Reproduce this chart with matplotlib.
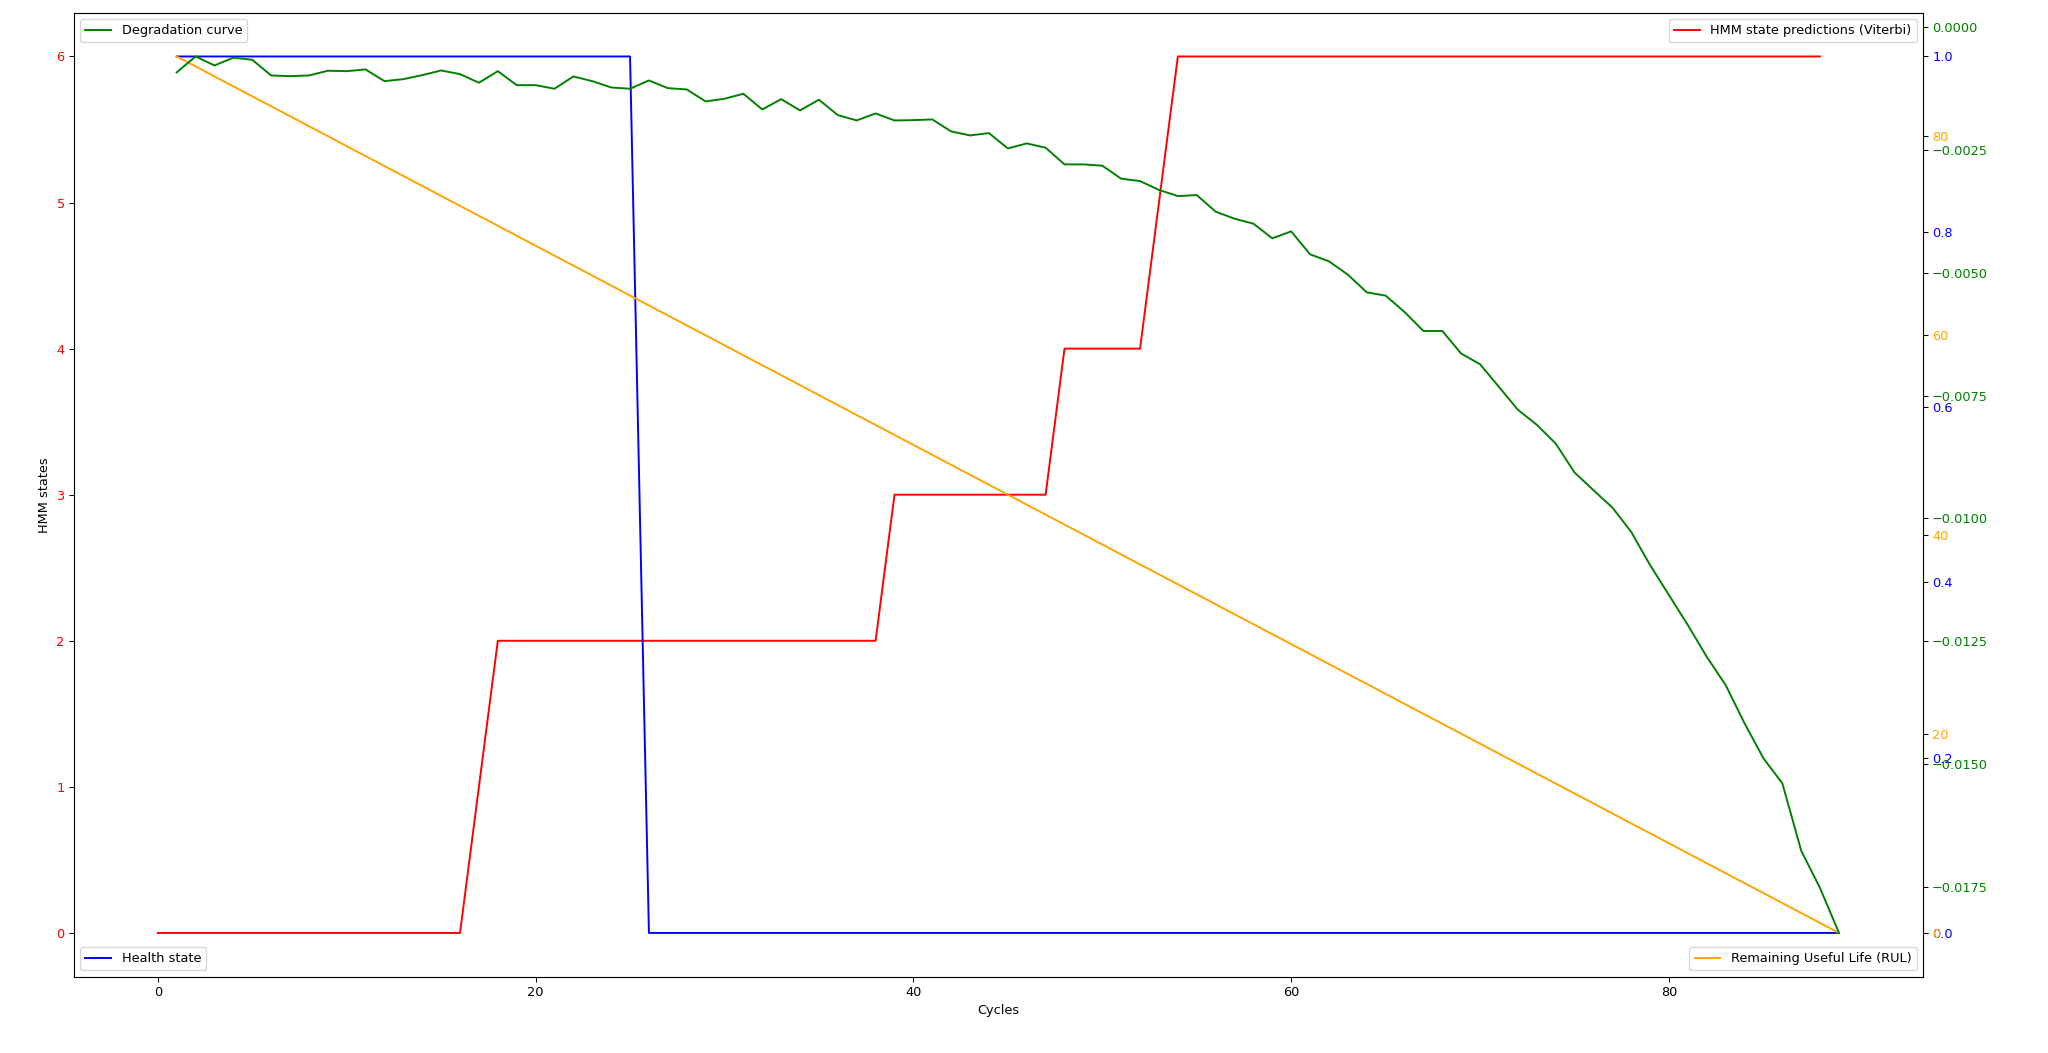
import numpy as np
import matplotlib
matplotlib.use("Agg")
import matplotlib.pyplot as plt

# HMM state predictions (Viterbi), cycles 0..88
hmm_cycles = np.arange(0, 89)
hmm_states = [0] * 17 + [1] + [2] * 21 + [3] * 9 + [4] * 5 + [5] + [6] * 35

# Health state, RUL and degradation curve, cycles 1..89
cycles = np.arange(1, 90)
health_state = [1] * 25 + [0] * 64
rul = list(range(88, -1, -1))
degradation = [
    -0.000921, -0.000596, -0.000779, -0.000622, -0.000663, -0.000983, -0.000997, -0.000983,
    -0.000887, -0.000895, -0.000860, -0.001098, -0.001058, -0.000976, -0.000881, -0.000956,
    -0.001131, -0.000895, -0.001180, -0.001180, -0.001253, -0.001003, -0.001098, -0.001227,
    -0.001253, -0.001084, -0.001241, -0.001267, -0.001511, -0.001457, -0.001355, -0.001674,
    -0.001465, -0.001694, -0.001477, -0.001790, -0.001898, -0.001756, -0.001898, -0.001892,
    -0.001878, -0.002122, -0.002203, -0.002156, -0.002468, -0.002366, -0.002453, -0.002793,
    -0.002793, -0.002819, -0.003084, -0.003133, -0.003312, -0.003438, -0.003417, -0.003755,
    -0.003898, -0.003999, -0.004298, -0.004156, -0.004624, -0.004766, -0.005037, -0.005397,
    -0.005464, -0.005797, -0.006184, -0.006184, -0.006644, -0.006861, -0.007323, -0.007787,
    -0.008092, -0.008474, -0.009064, -0.009424, -0.009776, -0.010273, -0.010950, -0.011560,
    -0.012171, -0.012816, -0.013391, -0.014170, -0.014882, -0.015391, -0.016762, -0.017527,
    -0.018436,
]

dpi = 93
fig, ax1 = plt.subplots(figsize=(2048 / dpi, 1053 / dpi), dpi=dpi)
fig.subplots_adjust(left=0.036, right=0.939, top=0.988, bottom=0.0724)

ax1.plot(hmm_cycles, hmm_states, color='red', label='HMM state predictions (Viterbi)')
ax1.set_xlabel('Cycles')
ax1.set_ylabel('HMM states')
ax1.tick_params(axis='y', labelcolor='red')
ax1.legend(loc='upper right')

ax2 = ax1.twinx()
ax2.plot(cycles, health_state, color='blue', label='Health state')
ax2.tick_params(axis='y', labelcolor='blue')
ax2.legend(loc='lower left')

ax3 = ax1.twinx()
ax3.plot(cycles, rul, color='orange', label='Remaining Useful Life (RUL)')
ax3.tick_params(axis='y', labelcolor='orange')
ax3.legend(loc='lower right')

ax4 = ax1.twinx()
ax4.plot(cycles, degradation, color='green', label='Degradation curve')
ax4.tick_params(axis='y', labelcolor='green')
ax4.legend(loc='upper left')

plt.savefig('out.png', dpi=dpi)
